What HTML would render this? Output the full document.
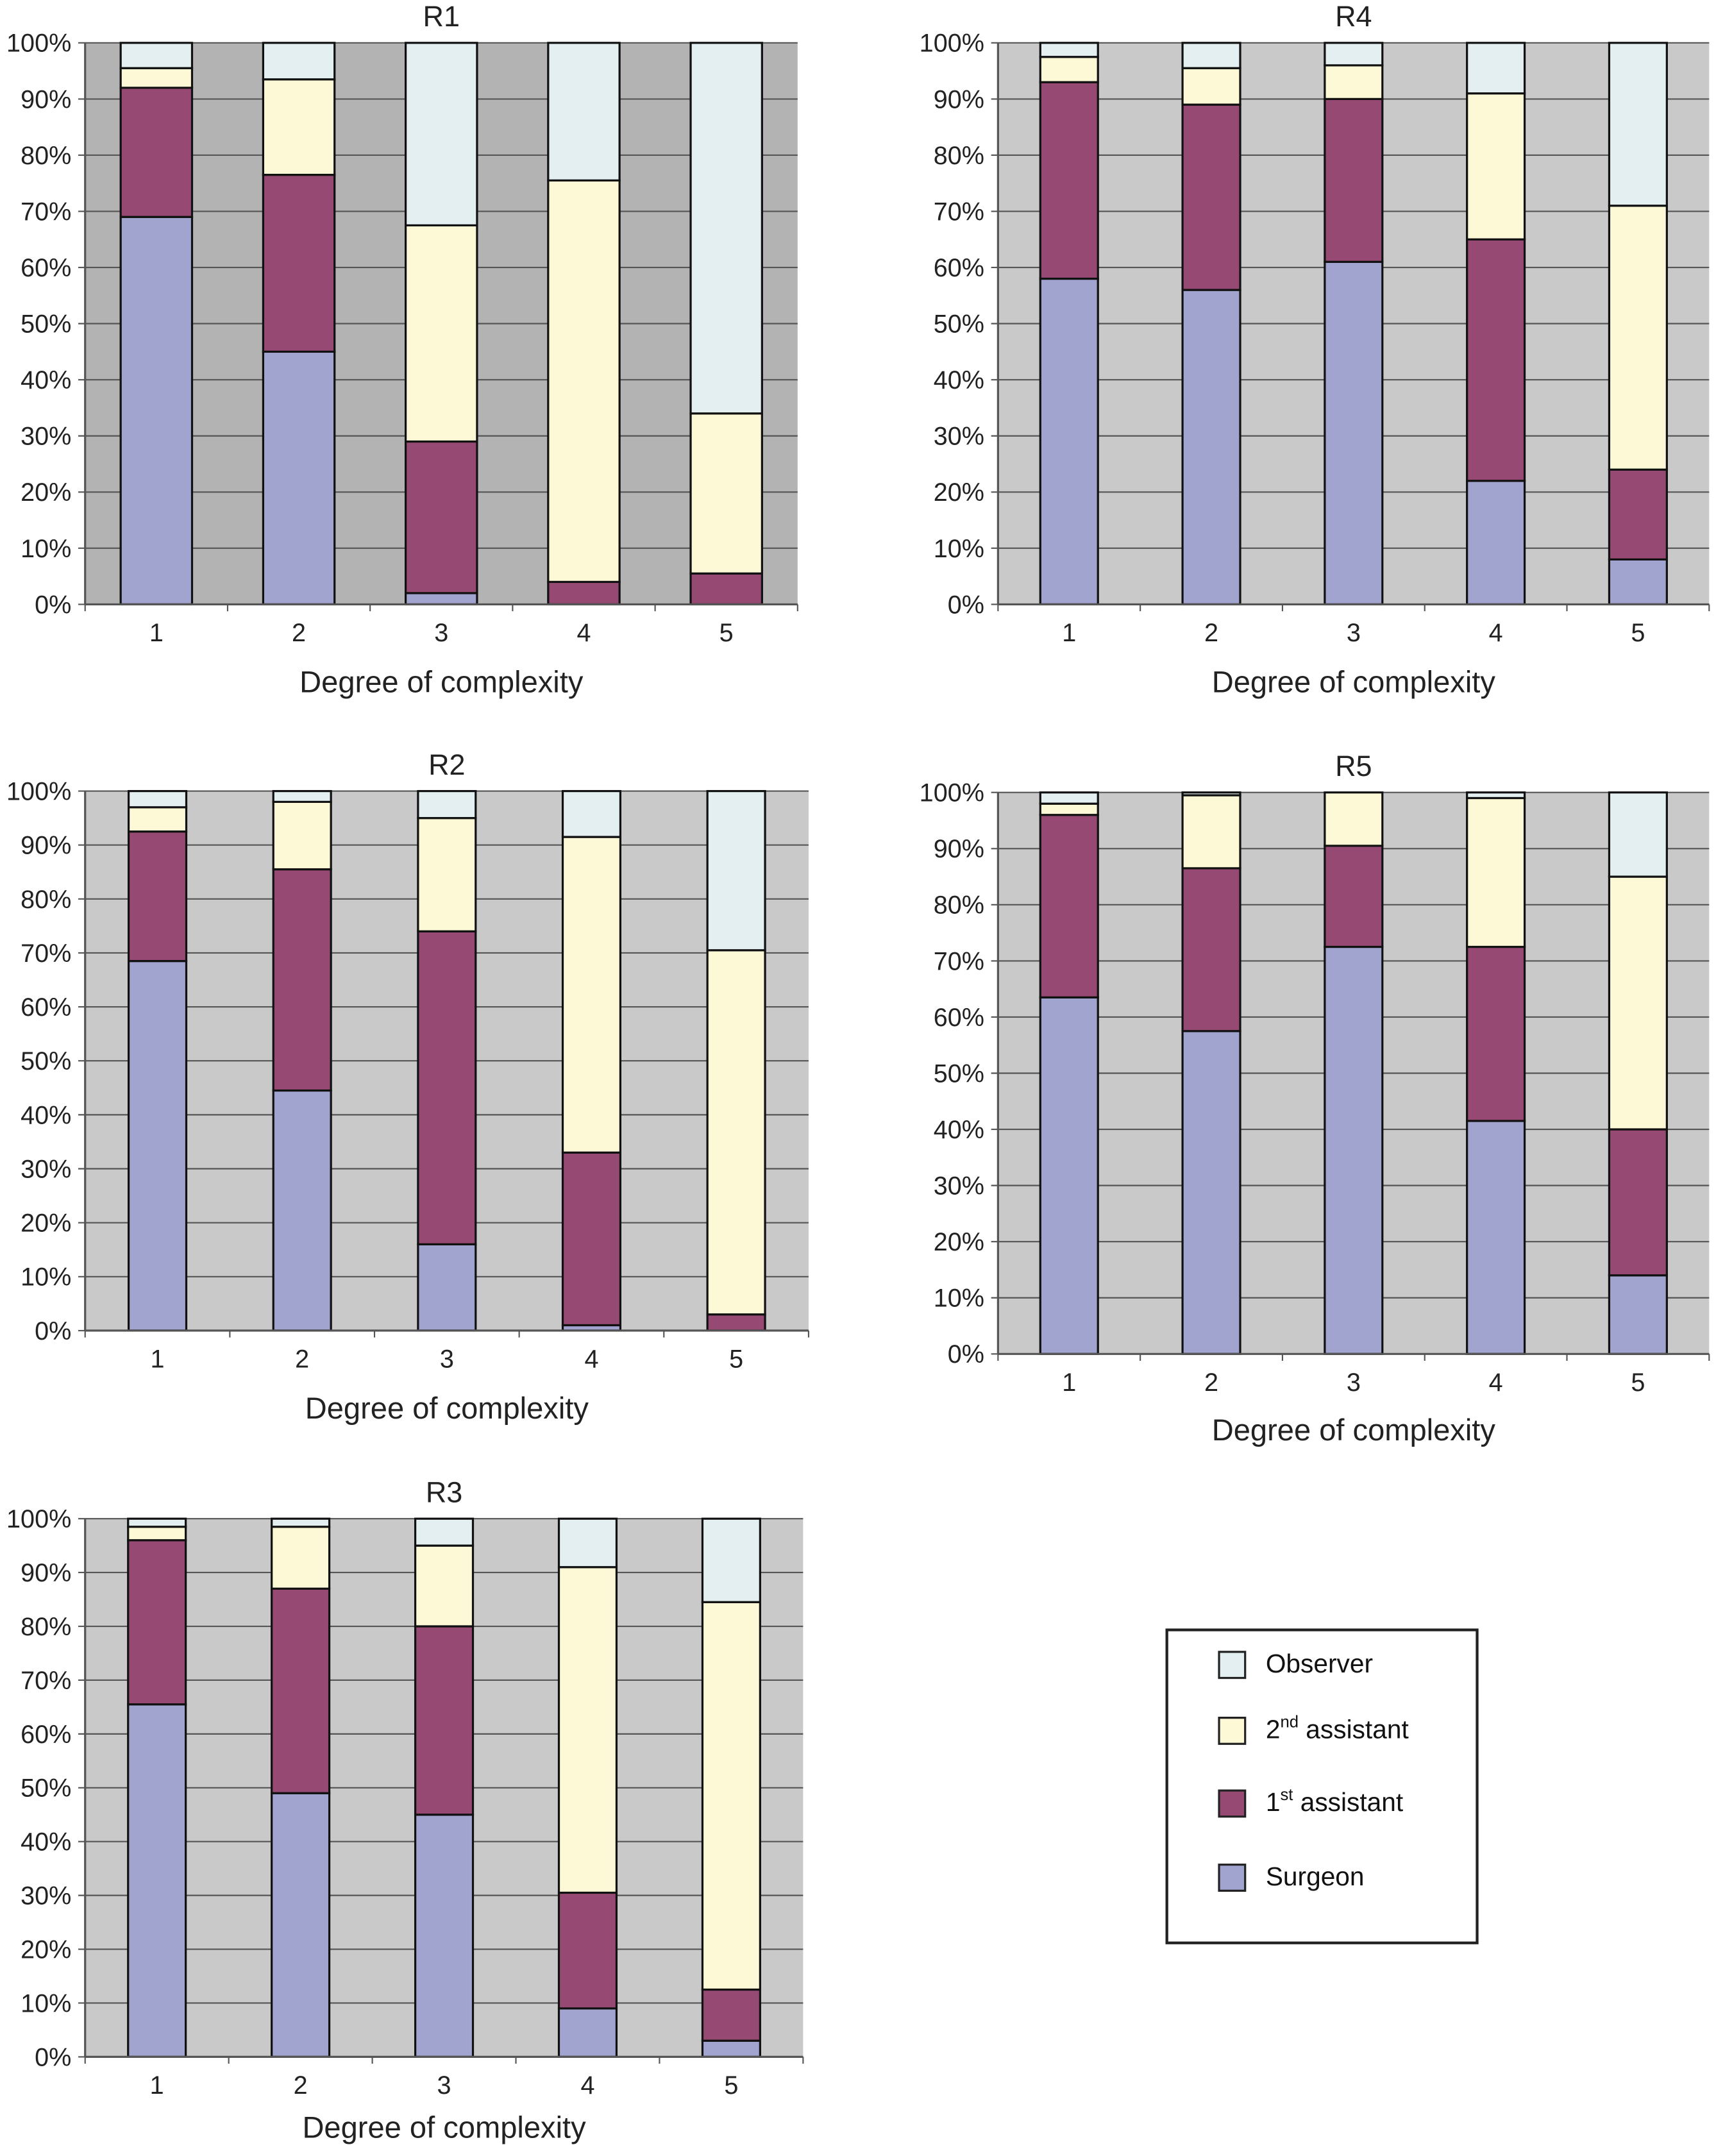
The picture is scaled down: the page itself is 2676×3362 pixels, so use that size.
<!DOCTYPE html>
<html><head><meta charset="utf-8">
<style>
html,body{margin:0;padding:0;background:#fff;}
svg{display:block;font-family:"Liberation Sans",Arial,sans-serif;}
</style></head>
<body>
<svg id="fig" width="2676" height="3362" viewBox="0 0 1250 1570" xmlns="http://www.w3.org/2000/svg">
  <g id="charts"></g>
  <g>
    <rect x="850" y="1187" width="226" height="228" fill="#fff" stroke="#222" stroke-width="2"/>
    <g>
      <rect x="888" y="1203" width="19" height="19" fill="#e3eff1" stroke="#222" stroke-width="1.5"/>
      <text x="922" y="1218" font-size="19" fill="#111">Observer</text>
    </g>
    <g>
      <rect x="888" y="1251" width="19" height="19" fill="#fdf8d6" stroke="#222" stroke-width="1.5"/>
      <text x="922" y="1266" font-size="19" fill="#111">2<tspan font-size="12" dy="-8">nd</tspan><tspan dy="8"> assistant</tspan></text>
    </g>
    <g>
      <rect x="888" y="1304" width="19" height="19" fill="#964a73" stroke="#222" stroke-width="1.5"/>
      <text x="922" y="1319" font-size="19" fill="#111">1<tspan font-size="12" dy="-8">st</tspan><tspan dy="8"> assistant</tspan></text>
    </g>
    <g>
      <rect x="888" y="1358" width="19" height="19" fill="#a2a4d0" stroke="#222" stroke-width="1.5"/>
      <text x="922" y="1373" font-size="19" fill="#111">Surgeon</text>
    </g>
  </g>
</svg>
<script>
const categories = ["1","2","3","4","5"];
const tickLabels = ["0%","10%","20%","30%","40%","50%","60%","70%","80%","90%","100%"];
const tickValues = [0,10,20,30,40,50,60,70,80,90,100];

const r1Surgeon  = [69, 45, 2, 0, 0];
const r1First    = [23, 31.5, 27, 4, 5.5];
const r1Second   = [3.5, 17, 38.5, 71.5, 28.5];
const r1Observer = [4.5, 6.5, 32.5, 24.5, 66];

const r4Surgeon  = [58, 56, 61, 22, 8];
const r4First    = [35, 33, 29, 43, 16];
const r4Second   = [4.5, 6.5, 6, 26, 47];
const r4Observer = [2.5, 4.5, 4, 9, 29];

const r2Surgeon  = [68.5, 44.5, 16, 1, 0];
const r2First    = [24, 41, 58, 32, 3];
const r2Second   = [4.5, 12.5, 21, 58.5, 67.5];
const r2Observer = [3, 2, 5, 8.5, 29.5];

const r5Surgeon  = [63.5, 57.5, 72.5, 41.5, 14];
const r5First    = [32.5, 29, 18, 31, 26];
const r5Second   = [2, 13, 9.5, 26.5, 45];
const r5Observer = [2, 0.5, 0, 1, 15];

const r3Surgeon  = [65.5, 49, 45, 9, 3];
const r3First    = [30.5, 38, 35, 21.5, 9.5];
const r3Second   = [2.5, 11.5, 15, 60.5, 72];
const r3Observer = [1.5, 1.5, 5, 9, 15.5];

const colors = ["#a2a4d0","#964a73","#fdf8d6","#e3eff1"];
const seriesNames = ["surgeon","1st-assistant","2nd-assistant","observer"];

const charts = [
  {id:"r1", title:"R1", L:62, R:581, T:31, B:440, bw:52, bg:"#b3b3b3", series:[r1Surgeon,r1First,r1Second,r1Observer], xt:497},
  {id:"r4", title:"R4", L:727, R:1245, T:31, B:440, bw:42, bg:"#c9c9c9", series:[r4Surgeon,r4First,r4Second,r4Observer], xt:497},
  {id:"r2", title:"R2", L:62, R:589, T:576, B:969, bw:42, bg:"#c9c9c9", series:[r2Surgeon,r2First,r2Second,r2Observer], xt:1026},
  {id:"r5", title:"R5", L:727, R:1245, T:577, B:986, bw:42, bg:"#c9c9c9", series:[r5Surgeon,r5First,r5Second,r5Observer], xt:1042},
  {id:"r3", title:"R3", L:62, R:585, T:1106, B:1498, bw:42, bg:"#c9c9c9", series:[r3Surgeon,r3First,r3Second,r3Observer], xt:1550}
];

const NS = "http://www.w3.org/2000/svg";
function mk(tag, attrs, parent){
  const e = document.createElementNS(NS, tag);
  for (const k in attrs) e.setAttribute(k, attrs[k]);
  parent.appendChild(e);
  return e;
}
const root = document.getElementById("charts");

charts.forEach(c => {
  const g = mk("g", {}, root);
  
  
  const y = v => c.B - (v/100)*(c.B - c.T);
  const band = (c.R - c.L)/categories.length;
  const x = i => c.L + (i+0.5)*band;

  const bg = mk("rect", {x:c.L, y:c.T, width:c.R-c.L, height:c.B-c.T, fill:c.bg}, g);
  
  

  tickValues.forEach((v, k) => {
    const gl = mk("line", {x1:c.L-5, x2:c.R, y1:y(v), y2:y(v), stroke:"#555", "stroke-width":1}, g);
    
    
    const t = mk("text", {x:c.L-10, y:y(v)+6.5, "font-size":18.5, "text-anchor":"end", fill:"#222"}, g);
    t.textContent = tickLabels[k];
    
    
  });

  const ya = mk("line", {x1:c.L, x2:c.L, y1:c.T, y2:c.B, stroke:"#555", "stroke-width":1.5}, g);
  
  

  categories.forEach((cat, i) => {
    let acc = 0;
    c.series.forEach((s, si) => {
      const v = s[i];
      if (v > 0) {
        const r = mk("rect", {x:x(i)-c.bw/2, y:y(acc+v), width:c.bw, height:y(acc)-y(acc+v), fill:colors[si], stroke:"#111", "stroke-width":1.5}, g);
        
        
      }
      acc += v;
    });
    const t = mk("text", {x:x(i), y:c.B+27, "font-size":18.5, "text-anchor":"middle", fill:"#222"}, g);
    t.textContent = cat;
    
    
  });
  for (let i = 0; i <= categories.length; i++) {
    const tk = mk("line", {x1:c.L+i*band, x2:c.L+i*band, y1:c.B, y2:c.B+5, stroke:"#555", "stroke-width":1}, g);
    
    
  }
  const xa = mk("line", {x1:c.L, x2:c.R, y1:c.B, y2:c.B, stroke:"#555", "stroke-width":1.5}, g);
  
  

  const tt = mk("text", {x:(c.L+c.R)/2, y:c.T-12, "font-size":21, "text-anchor":"middle", fill:"#222"}, g);
  tt.textContent = c.title;
  
  

  const xt = mk("text", {x:(c.L+c.R)/2, y:c.xt+7, "font-size":22, "text-anchor":"middle", fill:"#222"}, g);
  xt.textContent = "Degree of complexity";
  
  
});
</script>
</body></html>
